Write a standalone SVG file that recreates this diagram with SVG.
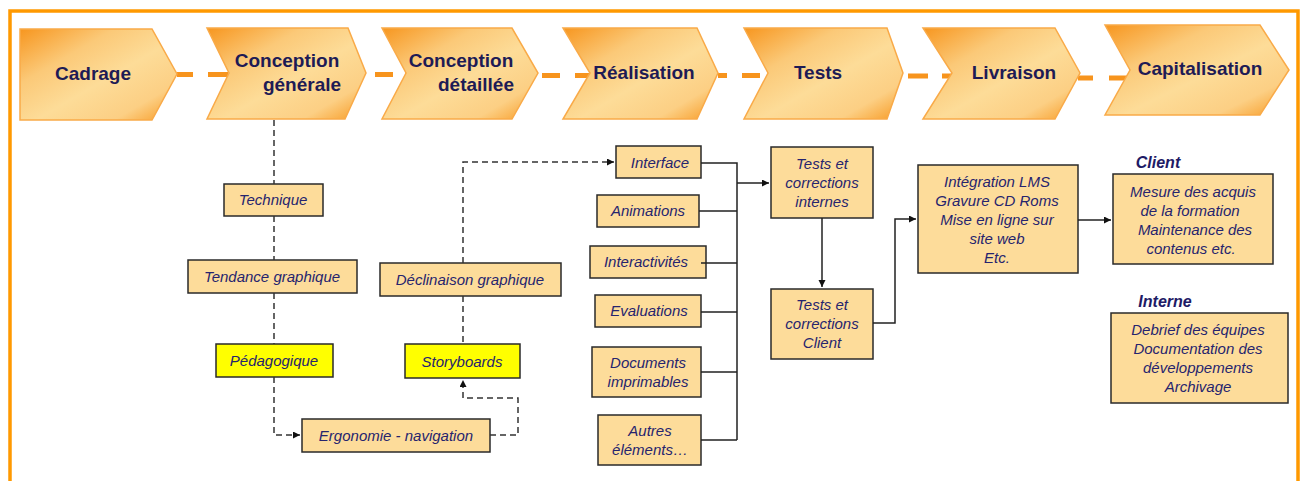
<svg xmlns="http://www.w3.org/2000/svg" width="1304" height="481" viewBox="0 0 1304 481">
<defs>
<linearGradient id="chev" x1="0" y1="0" x2="1" y2="1">
<stop offset="0" stop-color="#F7961F"/>
<stop offset="0.3" stop-color="#FBC978"/>
<stop offset="0.55" stop-color="#FDDC98"/>
<stop offset="0.8" stop-color="#FCCF84"/>
<stop offset="1" stop-color="#F7981F"/>
</linearGradient>
<marker id="arr" markerUnits="userSpaceOnUse" markerWidth="8" markerHeight="8" refX="7" refY="3.5" orient="auto">
<path d="M0,0 L7,3.5 L0,7 Z" fill="#111"/>
</marker>
<style>
.chev{fill:url(#chev);stroke:#F9AA48;stroke-width:1.5}
.ct{font-family:"Liberation Sans",Arial,sans-serif;font-weight:bold;font-size:19px;fill:#1E1B55;text-anchor:middle}
.box{fill:#FDDC9A;stroke:#2a2a2a;stroke-width:1.5}
.yel{fill:#FFFF00;stroke:#2a2a2a;stroke-width:1.5}
.bt{font-family:"Liberation Sans",Arial,sans-serif;font-style:italic;font-size:15px;fill:#26246E;text-anchor:middle}
.lbl{font-family:"Liberation Sans",Arial,sans-serif;font-style:italic;font-weight:bold;font-size:16px;fill:#1E1B66;text-anchor:middle}
.dash{fill:none;stroke:#333;stroke-width:1.5;stroke-dasharray:6 4}
.solid{fill:none;stroke:#222;stroke-width:1.5}
.od{fill:none;stroke:#F7941D;stroke-width:5}
</style>
</defs>
<rect width="1304" height="481" fill="#fff"/>
<path d="M10,483 V11 H1298 V483" fill="none" stroke="#FF9900" stroke-width="3.5"/>

<g id="phase-links">
<path class="od" d="M177,74.5 H193 M208,74.5 H228 M375,74.5 H393 M405,74.5 H408 M542,75.5 H560 M575,75.5 H590 M718,75.5 H727 M742,75.5 H760 M908,76 H928 M942,76 H952 M1078,78 H1093 M1109,78 H1130"/>
</g>

<g id="cadrage"><path class="chev" d="M20,29 H152 L177,74 L152,120 H20 Z"/><text class="ct" x="93" y="80">Cadrage</text></g>
<g id="conception-generale"><path class="chev" d="M207,28 H348 L366,73 L345,119 H207 L229,73 Z"/><text class="ct" x="287" y="67">Conception</text><text class="ct" x="302" y="91">générale</text></g>
<g id="conception-detaillee"><path class="chev" d="M382,28 H512 L538,73 L512,119 H382 L406,73 Z"/><text class="ct" x="461" y="67">Conception</text><text class="ct" x="476" y="91">détaillée</text></g>
<g id="realisation"><path class="chev" d="M563,28 H697 L718,73 L697,119 H563 L590,73 Z"/><text class="ct" x="644" y="79">Réalisation</text></g>
<g id="tests"><path class="chev" d="M744,28 H887 L903,73 L887,119 H744 L768,73 Z"/><text class="ct" x="818" y="79">Tests</text></g>
<g id="livraison"><path class="chev" d="M923,28 H1055 L1080,73 L1055,119 H923 L952,73 Z"/><text class="ct" x="1014" y="79">Livraison</text></g>
<g id="capitalisation"><path class="chev" d="M1105,25 H1260 L1289,70 L1260,115 H1105 L1130,70 Z"/><text class="ct" x="1200" y="75">Capitalisation</text></g>

<g id="technique"><rect class="box" x="224" y="184" width="99" height="32"/><text class="bt" x="273" y="205">Technique</text></g>
<g id="tendance"><rect class="box" x="188" y="260" width="169" height="33"/><text class="bt" x="272" y="282">Tendance graphique</text></g>
<g id="pedagogique"><rect class="yel" x="216" y="344" width="117" height="33"/><text class="bt" x="274" y="366">Pédagogique</text></g>
<g id="declinaison"><rect class="box" x="380" y="263" width="181" height="33"/><text class="bt" x="470" y="285">Déclinaison graphique</text></g>
<g id="storyboards"><rect class="yel" x="405" y="344" width="115" height="34"/><text class="bt" x="462" y="367">Storyboards</text></g>
<g id="ergonomie"><rect class="box" x="302" y="419" width="188" height="33"/><text class="bt" x="396" y="441">Ergonomie - navigation</text></g>

<g id="interface"><rect class="box" x="616" y="146" width="85" height="32"/><text class="bt" x="660" y="168">Interface</text></g>
<g id="animations"><rect class="box" x="597" y="195" width="102" height="32"/><text class="bt" x="648" y="216">Animations</text></g>
<g id="interactivites"><rect class="box" x="590" y="246" width="116" height="32"/><text class="bt" x="646" y="267">Interactivités</text></g>
<g id="evaluations"><rect class="box" x="595" y="295" width="106" height="32"/><text class="bt" x="649" y="316">Evaluations</text></g>
<g id="documents"><rect class="box" x="592" y="347" width="109" height="50"/><text class="bt" x="648" y="368">Documents</text><text class="bt" x="648" y="387">imprimables</text></g>
<g id="autres"><rect class="box" x="598" y="415" width="103" height="50"/><text class="bt" x="650" y="436">Autres</text><text class="bt" x="650" y="455">éléments…</text></g>

<g id="tests-internes"><rect class="box" x="771" y="147" width="102" height="71"/><text class="bt" x="822" y="169">Tests et</text><text class="bt" x="822" y="188">corrections</text><text class="bt" x="822" y="207">internes</text></g>
<g id="tests-client"><rect class="box" x="771" y="289" width="102" height="70"/><text class="bt" x="822" y="310">Tests et</text><text class="bt" x="822" y="329">corrections</text><text class="bt" x="822" y="348">Client</text></g>

<g id="integration"><rect class="box" x="918" y="165" width="160" height="108"/><text class="bt" x="997" y="187">Intégration LMS</text><text class="bt" x="997" y="206">Gravure CD Roms</text><text class="bt" x="997" y="225">Mise en ligne sur</text><text class="bt" x="997" y="244">site web</text><text class="bt" x="997" y="263">Etc.</text></g>

<g id="client"><text class="lbl" x="1158" y="168">Client</text><rect class="box" x="1113" y="174" width="160" height="90"/><text class="bt" x="1193" y="197">Mesure des acquis</text><text class="bt" x="1190" y="216">de la formation</text><text class="bt" x="1195" y="235">Maintenance des</text><text class="bt" x="1191" y="254">contenus etc.</text></g>
<g id="interne"><text class="lbl" x="1165" y="307">Interne</text><rect class="box" x="1111" y="313" width="177" height="90"/><text class="bt" x="1198" y="335">Debrief des équipes</text><text class="bt" x="1198" y="354">Documentation des</text><text class="bt" x="1198" y="373">développements</text><text class="bt" x="1198" y="392">Archivage</text></g>

<g id="connectors">
<path class="dash" d="M274,120 V184 M274,216 V260 M274,293 V344"/>
<path class="dash" d="M274,377 V435 H300" marker-end="url(#arr)"/>
<path class="dash" d="M463,263 V162 H614" marker-end="url(#arr)"/>
<path class="dash" d="M463,296 V344"/>
<path class="dash" d="M490,435 H518 V398 H463 V380" marker-end="url(#arr)"/>
<path class="solid" d="M701,163 H737 V440 M699,211 H737 M701,263 H737 M701,312 H737 M701,372 H737 M701,440 H737"/>
<path class="solid" d="M737,183 H769" marker-end="url(#arr)"/>
<path class="solid" d="M822,218 V287" marker-end="url(#arr)"/>
<path class="solid" d="M873,323 H895 V219 H916" marker-end="url(#arr)"/>
<path class="solid" d="M1078,220 H1111" marker-end="url(#arr)"/>
</g>
</svg>
